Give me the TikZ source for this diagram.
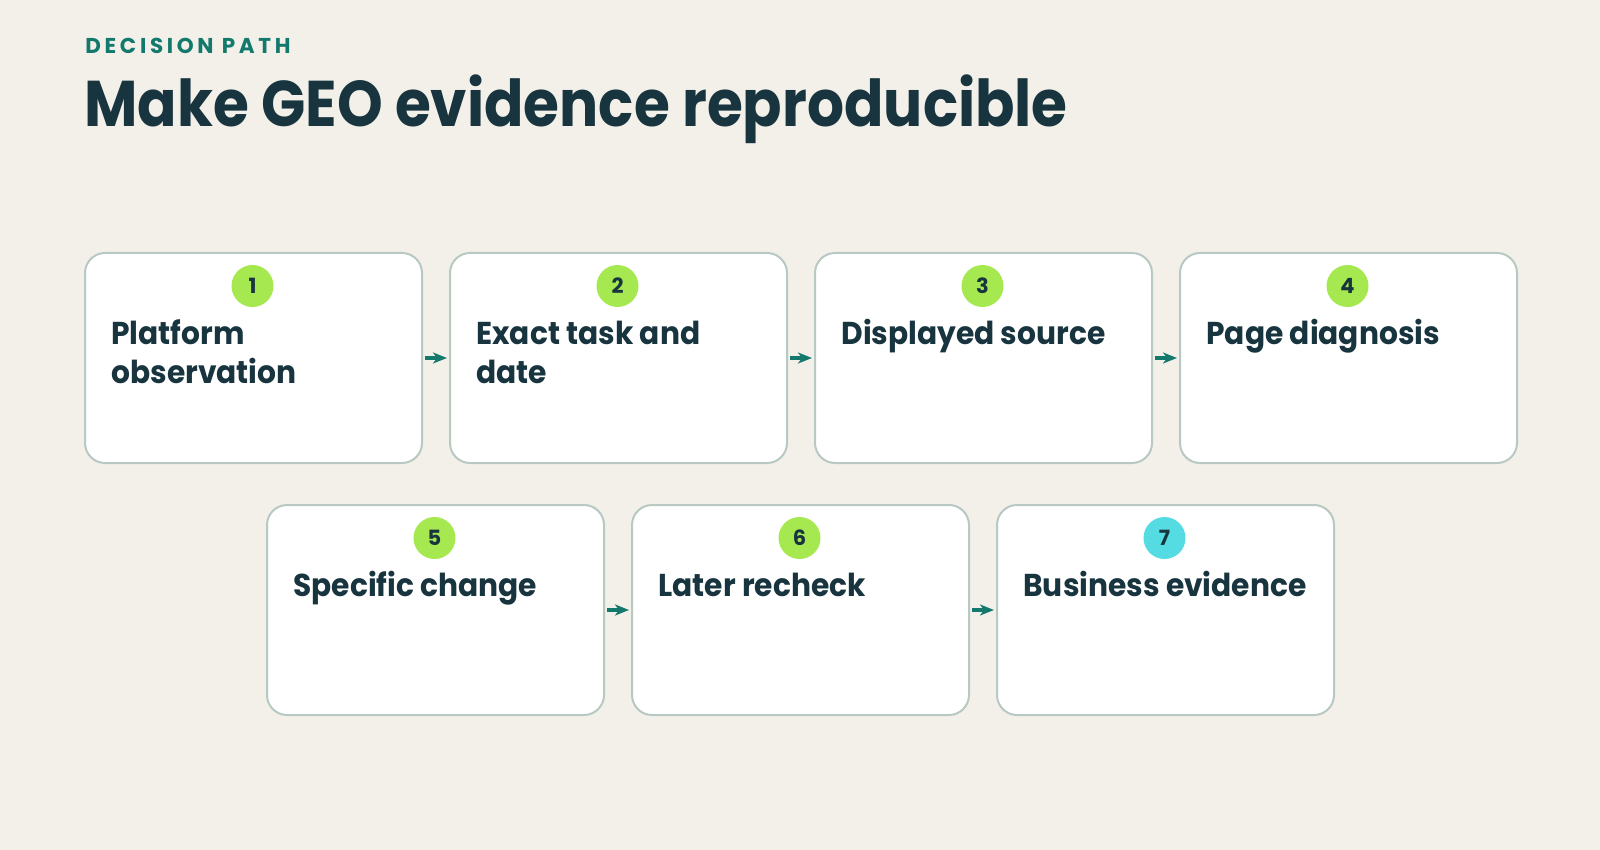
\documentclass[tikz,border=0pt]{standalone}
\usepackage{fontspec}
\setmainfont{Poppins}
\newfontfamily\kickerfont[LetterSpace=17]{Poppins}
\newfontfamily\headfont[FakeStretch=0.9]{Poppins}
\newfontfamily\stepfont[FakeStretch=0.94]{Poppins}
\usetikzlibrary{arrows.meta}
\definecolor{bgc}{HTML}{F3F0E9}
\definecolor{boxline}{HTML}{B8C8C2}
\definecolor{ink}{HTML}{17343F}
\definecolor{tealc}{HTML}{12796C}
\definecolor{limec}{HTML}{A5E84F}
\definecolor{cyanc}{HTML}{55DCE3}
\begin{document}
\begin{tikzpicture}[x=0.5pt,y=-0.5pt,
  stepbox/.style={draw=boxline, line width=1pt, fill=white, rounded corners=10pt,
    minimum width=168.5pt, minimum height=105pt, anchor=north west, inner sep=0pt},
  numdot/.style={circle, fill=limec, minimum size=21pt, inner sep=0pt, text=ink,
    font=\bfseries\fontsize{10.5}{12}\selectfont},
  steplabel/.style={anchor=base west, inner sep=0pt, align=left, text=ink,
    font=\stepfont\bfseries\fontsize{15.8}{19.5}\selectfont},
  flow/.style={draw=tealc, line width=1.7pt, -{Stealth[length=7pt,width=5.5pt,inset=2pt]},
    shorten <=1pt, shorten >=1pt}]
\fill[bgc] (0,0) rectangle (1600,850);
\useasboundingbox (0,0) rectangle (1600,850);
\node[anchor=base west, inner sep=0pt, text=tealc, font=\kickerfont\bfseries\fontsize{10.75}{12}\selectfont] (kicker) at (85,54) {DECISION PATH};
\node[anchor=base west, inner sep=0pt, text=ink, font=\headfont\bfseries\fontsize{32.3}{36}\selectfont] (title) at (84,127) {Make GEO evidence reproducible};
% row 1
\node[stepbox] (b1) at (84,252) {};
\node[stepbox] (b2) at (449,252) {};
\node[stepbox] (b3) at (814,252) {};
\node[stepbox] (b4) at (1179,252) {};
% row 2
\node[stepbox] (b5) at (266,504) {};
\node[stepbox] (b6) at (631,504) {};
\node[stepbox] (b7) at (996,504) {};
% numbers
\node[numdot] (n1) at (252.5,286) {1};
\node[numdot] (n2) at (617.5,286) {2};
\node[numdot] (n3) at (982.5,286) {3};
\node[numdot] (n4) at (1347.5,286) {4};
\node[numdot] (n5) at (434.5,538) {5};
\node[numdot] (n6) at (799.5,538) {6};
\node[numdot, fill=cyanc] (n7) at (1164.5,538) {7};
% labels (base anchor of a two-line label is its last line)
\node[steplabel] (t1) at (111,383) {Platform\\observation};
\node[steplabel] (t2) at (476,383) {Exact task and\\date};
\node[steplabel] (t3) at (841,344) {Displayed source};
\node[steplabel] (t4) at (1206,344) {Page diagnosis};
\node[steplabel] (t5) at (293,596) {Specific change};
\node[steplabel] (t6) at (658,596) {Later recheck};
\node[steplabel] (t7) at (1023,596) {Business evidence};
% connectors
\draw[flow] (b1.east) -- (b2.west);
\draw[flow] (b2.east) -- (b3.west);
\draw[flow] (b3.east) -- (b4.west);
\draw[flow] (b5.east) -- (b6.west);
\draw[flow] (b6.east) -- (b7.west);
\end{tikzpicture}
\end{document}
